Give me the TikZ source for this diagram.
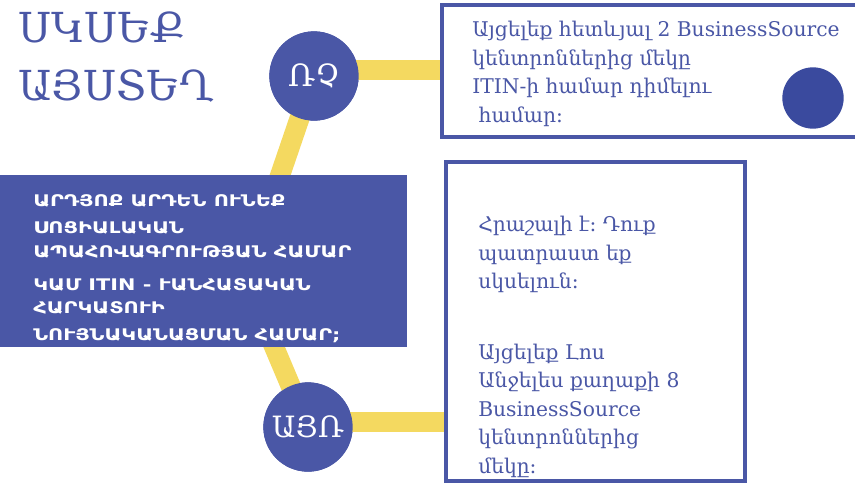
\documentclass[tikz,border=0pt]{standalone}
\usepackage{fontspec}
\setmainfont{DejaVu Serif}
\newfontfamily\armsans[FakeStretch=1.3]{DejaVu Sans}
\definecolor{navy}{HTML}{4A57A6}
\definecolor{dotblue}{HTML}{3A4A9E}
\definecolor{sun}{HTML}{F4D960}
\tikzset{
  px/.style={x=0.75pt,y=-0.75pt},
  bar/.style={draw=sun,line width=15pt},
  stepcircle/.style={circle,fill=navy,minimum size=67pt,inner sep=0pt,text=white},
  boxline/.style={draw=navy,line width=3pt,fill=white},
  bodytext/.style={text=navy,align=left,inner sep=0pt,anchor=north west,font=\fontsize{15.2}{21.4}\selectfont},
  captext/.style={text=white,inner sep=0pt,anchor=base west,font=\armsans\bfseries\fontsize{12}{14}\selectfont},
}
\begin{document}
\begin{tikzpicture}[px]
\useasboundingbox (0,0) rectangle (855,486);
% circles and yellow connectors
\node[stepcircle] (c1) at (314,76) {};
\node[stepcircle] (c2) at (308,427) {};
\coordinate (apex) at (245,278);
\coordinate (e1) at (460,70);
\coordinate (e2) at (460,422);
\draw[bar] (c1.center) -- (apex) -- (c2.center);
\draw[bar] (c1.center |- e1) -- (e1);
\draw[bar] (c2.center |- e2) -- (e2);
% boxes
\draw[boxline] (442,5) -- (870,5) -- (870,137) -- (442,137) -- cycle;
\draw[boxline] (446,162) rectangle (745,481);
% circle labels
\node[stepcircle,font=\fontsize{23}{26}\selectfont] (c1t) at (c1) {ՌՉ};
\node[stepcircle,font=\fontsize{22}{26}\selectfont] (c2t) at (c2) {ԱՅՌ};
% dot
\node[circle,fill=dotblue,minimum size=46pt,inner sep=0pt] (dot) at (813,98) {};
% heading
\node[text=navy,align=left,anchor=north west,inner sep=0pt,font=\fontsize{31}{43}\selectfont] (head) at (18,12) {ՍԿՍԵՔ\\ԱՅՍՏԵՂ};
% rect
\fill[navy] (0,175) rectangle (407,347);
\node[captext] (r1) at (33,206) {ԱՐԴՅՈՔ ԱՐԴԵՆ ՈՒՆԵՔ};
\node[captext] (r2) at (33,233) {ՍՈՑԻԱԼԱԿԱՆ};
\node[captext] (r3) at (33,257) {ԱՊԱՀՈՎԱԳՐՈՒԹՅԱՆ ՀԱՄԱՐ};
\node[captext] (r4) at (33,290) {ԿԱՄ ITIN - ՒԱՆՀԱՏԱԿԱՆ};
\node[captext] (r5) at (33,313) {ՀԱՐԿԱՏՈՒԻ};
\node[captext] (r6) at (33,340) {ՆՈՒՅՆԱԿԱՆԱՑՄԱՆ ՀԱՄԱՐ;};
% texts
\node[bodytext] (t1) at (472,21) {Այցելեք հետևյալ 2 BusinessSource\\կենտրոններից մեկը\\ITIN-ի համար դիմելու\\\ համար։};
\node[bodytext] (t2) at (478,216) {Հրաշալի է։ Դուք\\պատրաստ եք\\սկսելուն։\\[31.5pt]Այցելեք Լոս\\Անջելես քաղաքի 8\\BusinessSource\\կենտրոններից\\մեկը։};
\end{tikzpicture}
\end{document}
